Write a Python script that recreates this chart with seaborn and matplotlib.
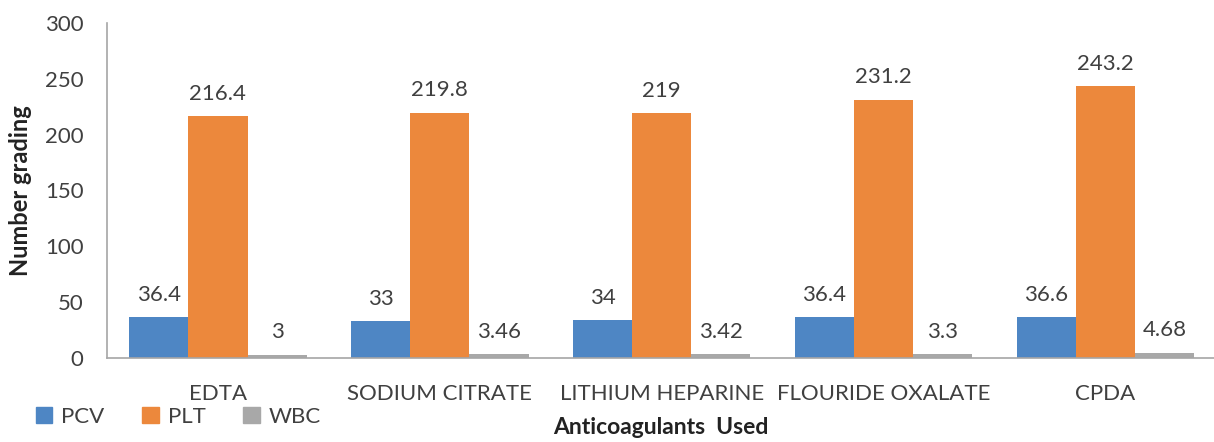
import matplotlib
matplotlib.use("Agg")
import matplotlib.pyplot as plt
import seaborn as sns
import pandas as pd

categories = ["EDTA", "SODIUM CITRATE", "LITHIUM HEPARINE", "FLOURIDE OXALATE", "CPDA"]
series_names = ["PCV", "PLT", "WBC"]
pcv = [36.4, 33, 34, 36.4, 36.6]
plt_vals = [216.4, 219.8, 219, 231.2, 243.2]
wbc = [3, 3.46, 3.42, 3.3, 4.68]
value_labels = {
    "PCV": ["36.4", "33", "34", "36.4", "36.6"],
    "PLT": ["216.4", "219.8", "219", "231.2", "243.2"],
    "WBC": ["3", "3.46", "3.42", "3.3", "4.68"],
}
yticks = [0, 50, 100, 150, 200, 250, 300]

colors = ["#4e86c4", "#ec883c", "#a8a8a8"]
text_color = "#404040"

df = pd.DataFrame({
    "Anticoagulant": categories * 3,
    "Series": ["PCV"] * 5 + ["PLT"] * 5 + ["WBC"] * 5,
    "Value": pcv + plt_vals + wbc,
})

sns.set_theme(style="white")
plt.rcParams["font.family"] = ["Lato", "DejaVu Sans"]

W, H = 1214, 442
fig, ax = plt.subplots(figsize=(W / 100, H / 100), dpi=100)
fig.subplots_adjust(left=107 / W, right=1.0, top=1 - 23 / H, bottom=1 - 358 / H)

sns.barplot(data=df, x="Anticoagulant", y="Value", hue="Series",
            order=categories, hue_order=series_names,
            palette=colors, width=0.8, saturation=1, ax=ax, legend=False,
            edgecolor="none")

for cont, name in zip(ax.containers, series_names):
    ax.bar_label(cont, labels=value_labels[name], padding=9, fontsize=16,
                 color=text_color)

ax.set_ylim(0, 300)
ax.set_xlim(-0.5, 4.49)
ax.set_yticks(yticks)
ax.set_yticklabels([str(v) for v in yticks], fontsize=16, color=text_color)
ax.tick_params(axis="y", length=0, pad=17)
ax.tick_params(axis="x", length=0, pad=19, labelsize=16, labelcolor=text_color)

for s in ["top", "right"]:
    ax.spines[s].set_visible(False)
for s in ["left", "bottom"]:
    ax.spines[s].set_color("#a6a6a6")
    ax.spines[s].set_linewidth(1.2)

ax.set_ylabel("Number grading", fontsize=17, fontweight="bold", color="#222222")
ax.set_xlabel("Anticoagulants  Used", fontsize=16.5, fontweight="bold", color="#222222")
ax.yaxis.set_label_coords(-86 / (W - 107), 0.5)
ax.yaxis.label.set_va("center")
ax.xaxis.set_label_coords(0.5, -(428 - 358) / (358 - 23))
ax.xaxis.label.set_va("center")

handles = [plt.Rectangle((0, 0), 1, 1, color=c) for c in colors]
fig.legend(handles, series_names, loc="center left", bbox_to_anchor=(20 / W, 1 - 417 / H),
           ncol=3, frameon=False, handlelength=0.75, handleheight=0.75,
           handletextpad=0.4, columnspacing=1.7, fontsize=16,
           labelcolor=text_color, borderpad=0.2)

fig.savefig("out.png", dpi=100)
